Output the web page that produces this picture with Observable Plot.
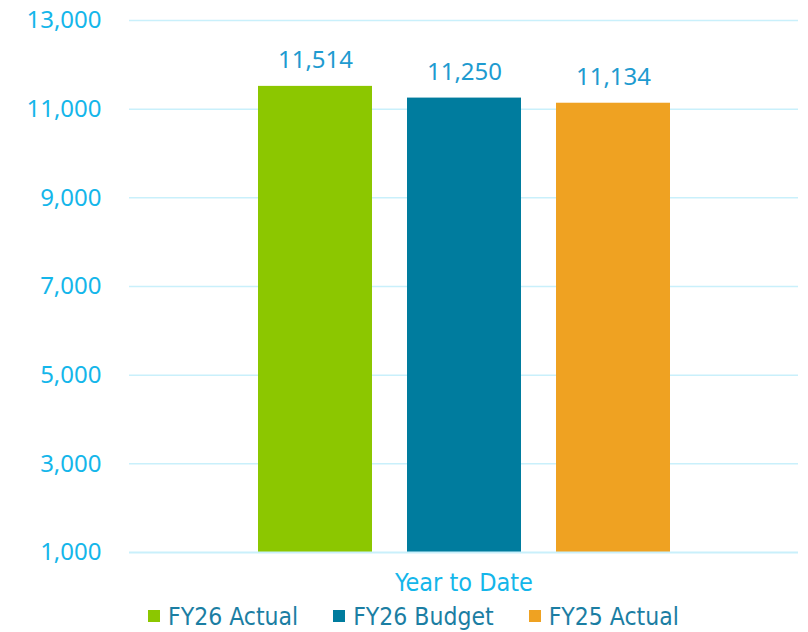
<!DOCTYPE html>
<html>
<head>
<meta charset="utf-8">
<script src="https://cdn.jsdelivr.net/npm/d3@7"></script>
<script src="https://cdn.jsdelivr.net/npm/@observablehq/plot@0.6"></script>
<style>
  html, body { margin: 0; padding: 0; background: #fff; }
  #chart { width: 808px; }
  .legend { display: flex; justify-content: flex-start; align-items: center; height: 32px; padding-left: 148px;
    font-family: "DejaVu Sans Condensed", "Liberation Sans Narrow", sans-serif; font-size: 24.5px; color: #1b7ea3; }
  .legend .item { display: flex; align-items: center; }
  .legend .sw { width: 12px; height: 12px; margin-right: 8px; }
</style>
</head>
<body>
<div id="chart"></div>
<script>
const series = ["FY26 Actual", "FY26 Budget", "FY25 Actual"];
const values = [11514, 11250, 11134];
const colors = ["#8cc700", "#007c9e", "#efa222"];
const yTicks = [1000, 3000, 5000, 7000, 9000, 11000, 13000];
const category = "Year to Date";

const data = series.map((s, i) => ({series: s, value: values[i]}));
const fmt = d3.format(",");

const plot = Plot.plot({
  width: 808,
  height: 600,
  marginTop: 20,
  marginLeft: 129,
  marginRight: 10,
  marginBottom: 48,
  style: {fontFamily: "'Noto Sans', sans-serif", background: "#fff"},
  x: {domain: series, paddingInner: 0.235, paddingOuter: 0.862, axis: null},
  y: {domain: [1000, 13000], ticks: yTicks, axis: null},
  color: {domain: series, range: colors},
  marks: [
    Plot.gridY(yTicks.filter(d => d > 1000), {stroke: "#c9f0fb", strokeOpacity: 1, strokeWidth: 1.5}),
    Plot.axisY(yTicks, {tickSize: 0, tickPadding: 28, tickFormat: fmt, fill: "#14b6ea", fontSize: 24, fontFamily: "'Noto Sans', sans-serif", label: null}),
    Plot.barY(data, {x: "series", y1: 1000, y2: "value", fill: "series"}),
    Plot.ruleY([1000], {stroke: "#c9f0fb", strokeWidth: 2}),
    Plot.text(data, {x: "series", y: "value", text: d => fmt(d.value), dy: -26, fill: "#1e9bd0", fontSize: 24, fontFamily: "'Noto Sans', sans-serif"}),
    Plot.text([category], {frameAnchor: "bottom", dy: 38, text: d => d, fill: "#14b6ea", fontSize: 25, fontFamily: "'DejaVu Sans Condensed', 'Liberation Sans Narrow', sans-serif"})
  ]
});
document.getElementById("chart").appendChild(plot);

const legend = d3.select("#chart").append("div").attr("class", "legend");
series.forEach((s, i) => {
  const it = legend.append("div").attr("class", "item").style("margin-right", i < 2 ? "35px" : "0");
  it.append("div").attr("class", "sw").style("background", colors[i]);
  it.append("span").text(s);
});
</script>
</body>
</html>
